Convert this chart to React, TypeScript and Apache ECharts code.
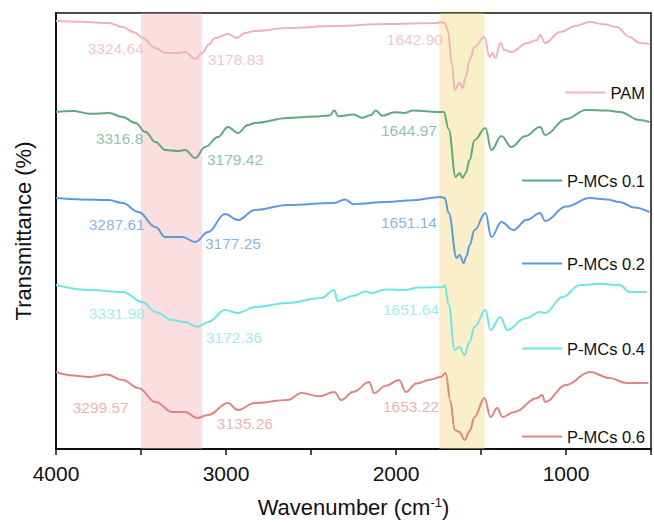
import React, { useEffect, useRef } from "react";
import * as echarts from "echarts";

// ---------- data (wavenumber cm^-1, relative transmittance with offset) ----------
const seriesNames = ["PAM", "P-MCs 0.1", "P-MCs 0.2", "P-MCs 0.4", "P-MCs 0.6"];

const pam: [number, number][] = [
  [4000, 107], [3850, 106.8], [3690, 106.5], [3608, 105.5], [3540, 104.2], [3491, 102.75], [3415, 100.25],
  [3357, 99], [3281, 99], [3240, 99.25], [3181, 97.5], [3140, 99], [3100, 101.2], [3064, 102.75],
  [2988, 103.75], [2936, 102.75], [2889, 104], [2830, 104.5], [2637, 105.25], [2363, 105.75],
  [2053, 106.25], [1760, 106.5], [1731, 106.75], [1713, 106.5], [1696, 104.75], [1670, 96],
  [1655, 89.75], [1626, 91.5], [1608, 90.25], [1590, 93], [1567, 97.25], [1538, 100.5], [1480, 103],
  [1450, 98], [1433, 99], [1415, 97.75], [1386, 101.5], [1363, 99.75], [1322, 99.25], [1228, 101.5],
  [1170, 102.25], [1152, 103.5], [1123, 101.5], [1035, 104.25], [940, 105.8], [860, 106.75],
  [780, 106.2], [702, 105.5], [626, 103], [567, 101.5], [509, 101.25],
];

const pmc01: [number, number][] = [
  [4000, 84.25], [3900, 84.5], [3800, 83.8], [3690, 84], [3608, 83], [3532, 81.5], [3474, 79.25],
  [3415, 76.75], [3357, 74.75], [3281, 74.5], [3240, 74.75], [3181, 72.75], [3123, 75.5], [3047, 78],
  [2988, 80.5], [2930, 79], [2871, 81], [2830, 81.5], [2637, 82.75], [2480, 83.1], [2390, 83.4],
  [2363, 84.6], [2340, 83.2], [2250, 83.6], [2200, 82.8], [2146, 83.5], [2120, 84.6], [2080, 83.3],
  [2010, 84.2], [1953, 84], [1900, 84.6], [1749, 84.25], [1719, 84.25], [1690, 80], [1649, 68],
  [1626, 69], [1608, 67.75], [1590, 69], [1567, 72.25], [1538, 77.25], [1474, 80.25], [1439, 74.75],
  [1380, 78.25], [1322, 75.5], [1240, 78.2], [1152, 80.5], [1123, 78.5], [1000, 82.5], [883, 84.75],
  [760, 84.6], [684, 84.25], [567, 82.25], [509, 81.75],
];

const pmc02: [number, number][] = [
  [4000, 62.75], [3850, 62.4], [3690, 62.25], [3608, 61.5], [3515, 59.25], [3415, 55.5], [3357, 53],
  [3257, 53], [3181, 51.75], [3105, 54.25], [3006, 58.75], [2930, 57.25], [2830, 59.75], [2637, 61],
  [2363, 61.5], [2300, 62.4], [2250, 61.2], [2053, 61.75], [1900, 62.2], [1737, 63], [1713, 62.75],
  [1690, 59], [1643, 47.75], [1626, 48.5], [1602, 46.5], [1585, 48.2], [1567, 51], [1538, 54.75],
  [1474, 59], [1439, 53], [1380, 56.75], [1310, 54.75], [1230, 57.3], [1152, 59], [1123, 57],
  [1000, 60.6], [860, 62.75], [760, 62.4], [684, 61.75], [600, 60.4], [509, 59.25],
];

const pmc04: [number, number][] = [
  [4000, 41], [3807, 39.75], [3608, 39.25], [3491, 36.75], [3415, 34.25], [3316, 32.25],
  [3240, 31.75], [3170, 30.5], [3105, 31.75], [3006, 34.75], [2930, 34], [2830, 35.5], [2637, 36.5],
  [2439, 37.75], [2363, 39.75], [2345, 37], [2250, 38.3], [2180, 39.4], [2146, 39], [2060, 39.9],
  [1953, 39.75], [1860, 40.4], [1719, 40.5], [1713, 41], [1690, 36], [1655, 24.75], [1626, 25.5],
  [1597, 23.5], [1567, 26.75], [1538, 30.5], [1474, 34.75], [1444, 29.75], [1386, 33], [1345, 29.75],
  [1240, 32.6], [1152, 34.25], [1123, 34], [1020, 38], [918, 41], [800, 41.3], [684, 41],
  [626, 39.25], [526, 39.25],
];

const pmc06: [number, number][] = [
  [4000, 19.25], [3900, 18.4], [3807, 18], [3700, 18.6], [3608, 17.25], [3515, 15.25], [3415, 11.75],
  [3316, 9.25], [3240, 9.25], [3170, 7.75], [3105, 8.5], [2988, 11.5], [2930, 9.75], [2830, 11.5],
  [2637, 12.25], [2556, 14], [2450, 13.2], [2363, 14.25], [2322, 12.25], [2250, 14.3], [2158, 16.75],
  [2129, 14], [2060, 15.8], [1982, 17.25], [1942, 14.25], [1880, 16.4], [1800, 17.3], [1737, 18],
  [1708, 19], [1680, 12], [1655, 4.75], [1626, 4.25], [1597, 2.25], [1567, 4.5], [1538, 8],
  [1480, 12.75], [1444, 8], [1404, 10.25], [1374, 8], [1304, 9.25], [1170, 12.75], [1140, 13.5],
  [1123, 11.75], [1000, 16], [860, 19.25], [743, 17.75], [643, 16.5], [515, 16.5],
];

const seriesData = [pam, pmc01, pmc02, pmc04, pmc06];

// peak annotations: [wavenumber position, transmittance position, text]
const pamPeaks: [number, number, string][] = [[3649, 100.25, "3324.64"], [2942, 97.5, "3178.83"], [1889, 102.5, "1642.90"]];
const pmc01Peaks: [number, number, string][] = [[3626, 77.75, "3316.8"], [2947, 72.5, "3179.42"], [1924, 79.75, "1644.97"]];
const pmc02Peaks: [number, number, string][] = [[3643, 56.25, "3287.61"], [2959, 51.5, "3177.25"], [1924, 56.75, "1651.14"]];
const pmc04Peaks: [number, number, string][] = [[3643, 34, "3331.98"], [2953, 28, "3172.36"], [1912, 35, "1651.64"]];
const pmc06Peaks: [number, number, string][] = [[3737, 10.5, "3299.57"], [2889, 6.5, "3135.26"], [1912, 10.75, "1653.22"]];
const peakData = [pamPeaks, pmc01Peaks, pmc02Peaks, pmc04Peaks, pmc06Peaks];

// highlighted bands (cm^-1)
const bands: [number, number][] = [[3500, 3140], [1745, 1480]];

// ---------- styles ----------
const lineColors = ["#f0b3bd", "#5caa7e", "#5b9ae0", "#6ee6e6", "#e08585"];
const labelColors = ["#efb5bf", "#6db591", "#6ba3dd", "#84e9e9", "#e8a0a0"];
const bandColors = ["rgba(240,160,165,0.35)", "rgba(245,215,120,0.4)"];
const legendTops = [79, 167, 250, 335, 423];

export default function App() {
  const ref = useRef<HTMLDivElement>(null);
  useEffect(() => {
    if (!ref.current) return;
    const chart = echarts.init(ref.current, undefined, { renderer: "svg" });
    const font = "Arial, 'Liberation Sans', Helvetica, sans-serif";

    const lineSeries: any[] = seriesNames.map((name, i) => ({
      name,
      type: "line",
      data: seriesData[i],
      showSymbol: false,
      smooth: 0.4,
      smoothMonotone: "x",
      lineStyle: { color: lineColors[i], width: 2 },
      itemStyle: { color: lineColors[i] },
      z: 2,
    }));

    const labelSeries: any[] = peakData.map((pk, i) => ({
      name: "lbl" + i,
      type: "scatter",
      data: pk.map((p) => ({ value: [p[0], p[1]], name: p[2] })),
      symbolSize: 1,
      itemStyle: { color: "rgba(0,0,0,0)" },
      silent: true,
      label: {
        show: true,
        position: "inside",
        formatter: "{b}",
        color: labelColors[i],
        fontSize: 15.5,
        fontFamily: font,
      },
      z: 4,
    }));

    const bandSeries: any = {
      name: "bands",
      type: "line",
      data: [],
      silent: true,
      z: 6,
      markArea: {
        silent: true,
        data: bands.map((b, i) => [
          { xAxis: b[0], itemStyle: { color: bandColors[i] } },
          { xAxis: b[1] },
        ]),
      },
    };

    chart.setOption({
      animation: false,
      backgroundColor: "#ffffff",
      textStyle: { fontFamily: font },
      grid: {
        left: 56,
        right: 1,
        top: 13,
        bottom: 75,
        show: true,
        borderColor: "#111",
        borderWidth: 1.5,
        backgroundColor: "transparent",
      },
      legend: seriesNames.map((n, i) => ({
        data: [n],
        right: 4,
        top: legendTops[i],
        align: "left",
        icon: "rect",
        itemWidth: 40,
        itemHeight: 2,
        itemGap: 4,
        selectedMode: false,
        textStyle: { fontSize: 16.5, color: "#111", fontFamily: font },
      })),
      xAxis: {
        type: "value",
        min: 500,
        max: 4000,
        interval: 500,
        inverse: true,
        name: "Wavenumber (cm{sup|-1})",
        nameLocation: "middle",
        nameGap: 47,
        nameTextStyle: {
          fontSize: 22,
          color: "#111",
          fontFamily: font,
          rich: { sup: { fontSize: 13, verticalAlign: "top", color: "#111", padding: [0, 0, 9, 0] } },
        },
        axisLine: { lineStyle: { color: "#111", width: 2 } },
        axisTick: { show: true, length: 6, lineStyle: { color: "#111", width: 1.5 } },
        axisLabel: {
          fontSize: 21,
          color: "#111",
          margin: 14,
          formatter: (v: number) => (v % 1000 === 0 ? String(v) : ""),
        },
        splitLine: { show: false },
      },
      yAxis: {
        type: "value",
        min: 0,
        max: 109,
        name: "Transmittance (%)",
        nameLocation: "middle",
        nameGap: 22,
        nameTextStyle: { fontSize: 22, color: "#111", fontFamily: font },
        axisLine: { show: true, lineStyle: { color: "#111", width: 2 } },
        axisTick: { show: false },
        axisLabel: { show: false },
        splitLine: { show: false },
      },
      series: [...lineSeries, ...labelSeries, bandSeries],
    });
    return () => chart.dispose();
  }, []);
  return <div ref={ref} style={{ width: 654, height: 524, position: "absolute", left: 0, top: 0 }} />;
}
